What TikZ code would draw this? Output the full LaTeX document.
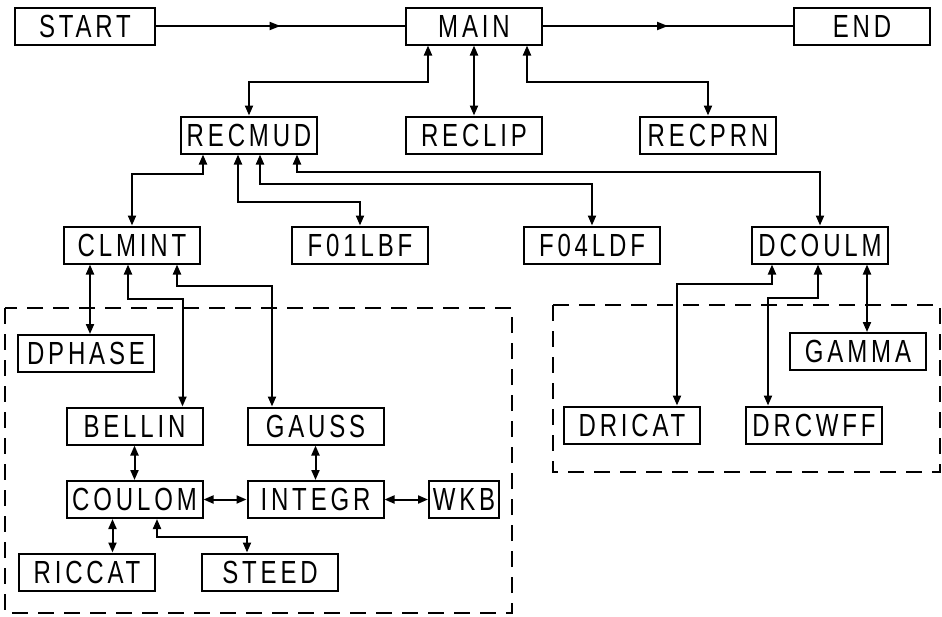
\documentclass[tikz,border=0pt]{standalone}
\usepackage{fontspec}
\newfontfamily\boxfont{Liberation Sans}[FakeStretch=0.75, LetterSpace=12]
\usepackage{tikz}
\usetikzlibrary{arrows.meta, decorations.markings}

\begin{document}
\begin{tikzpicture}[
			x=0.5pt, y=-0.5pt,
			block/.style={
				rectangle,
				draw,
				fill=white,
				minimum width=68pt,
				minimum height=18.5pt,
				inner sep=0pt,
				text centered,
				font=\boxfont\fontsize{16}{16}\selectfont,
				line width=1pt
			},
			link/.style={
				{Triangle[length=5pt, width=4pt]}-{Triangle[length=5pt, width=4pt]},
				line width=1pt
			},
			flow/.style={
				line width=1pt,
				decoration={markings,
					mark=at position 0.5 with {\arrow{Triangle[length=5.5pt, width=4pt]}}},
				postaction={decorate}
			},
			group/.style={
				draw,
				line width=1pt,
				dash pattern=on 8pt off 5pt
			}
			]
			
			\useasboundingbox (0,0) rectangle (942,616);
			
			% Dashed groups
			\draw[group] (5,308) rectangle (512,613);
			\draw[group] (553,305) rectangle (940,472);
			
			% Top row
			\node[block, minimum width=70pt] (start) at (85,26) {START};
			\node[block] (main) at (474,26) {MAIN};
			\node[block] (end) at (862,26) {END};
			
			\draw[flow] (start) -- (main);
			\draw[flow] (main) -- (end);
			
			% Second row
			\node[block] (recmud) at (249,135) {RECMUD};
			\node[block] (reclip) at (474,135) {RECLIP};
			\node[block] (recprn) at (708,135) {RECPRN};
			
			\draw[link] ([xshift=-23pt]main.south) -- ++(0,36) -| (recmud.north);
			\draw[link] (main.south) -- (reclip.north);
			\draw[link] ([xshift=26.5pt]main.south) -- ++(0,36) -| (recprn.north);
			
			% Third row
			\node[block] (clmint) at (132,245) {CLMINT};
			\node[block] (f01lbf) at (360,245) {F01LBF};
			\node[block] (f04ldf) at (592,245) {F04LDF};
			\node[block] (dcoulm) at (820,245) {DCOULM};
			
			\draw[link] ([xshift=-23pt]recmud.south) -- ++(0,19) -| (clmint.north);
			\draw[link] ([xshift=-5.5pt]recmud.south) -- ++(0,47) -| (f01lbf.north);
			\draw[link] ([xshift=5.5pt]recmud.south) -- ++(0,29) -| (f04ldf.north);
			\draw[link] ([xshift=24pt]recmud.south) -- ++(0,17) -| (dcoulm.north);
			
			% Left group
			\node[block] (dphase) at (86,353.5) {DPHASE};
			\node[block] (bellin) at (134.5,426) {BELLIN};
			\node[block] (gauss) at (315.5,426) {GAUSS};
			\node[block] (coulom) at (134.5,499.5) {COULOM};
			\node[block] (integr) at (315.5,499.5) {INTEGR};
			\node[block, minimum width=35pt] (wkb) at (464,499.5) {WKB};
			\node[block] (riccat) at (87,572) {RICCAT};
			\node[block] (steed) at (270,572) {STEED};
			
			\draw[link] ([xshift=2pt]dphase.north |- clmint.south) -- ([xshift=2pt]dphase.north);
			\draw[link] ([xshift=-2pt]clmint.south) -- ++(0,34) -| ([xshift=24pt]bellin.north);
			\draw[link] ([xshift=22.5pt]clmint.south) -- ++(0,21) -| ([xshift=-21.75pt]gauss.north);
			\draw[link] (bellin.south) -- (coulom.north);
			\draw[link] (gauss.south) -- (integr.north);
			\draw[link] (coulom) -- (integr);
			\draw[link] (integr) -- (wkb);
			\draw[link] ([xshift=-11pt]coulom.south) -- ([xshift=-11pt]coulom.south |- riccat.north);
			\draw[link] ([xshift=11.25pt]coulom.south) -- ++(0,18) -| ([xshift=-11.5pt]steed.north);
			
			% Right group
			\node[block] (gamma) at (858,351.5) {GAMMA};
			\node[block] (dricat) at (632,425) {DRICAT};
			\node[block] (drcwff) at (814,425) {DRCWFF};
			
			\draw[link] ([xshift=-24pt]dcoulm.south) -- ++(0,19) -| ([xshift=22.5pt]dricat.north);
			\draw[link] ([xshift=-1pt]dcoulm.south) -- ++(0,33) -| ([xshift=-23pt]drcwff.north);
			\draw[link] ([xshift=23.5pt]dcoulm.south) -- ([xshift=23.5pt]dcoulm.south |- gamma.north);
			
		\end{tikzpicture}
\end{document}
